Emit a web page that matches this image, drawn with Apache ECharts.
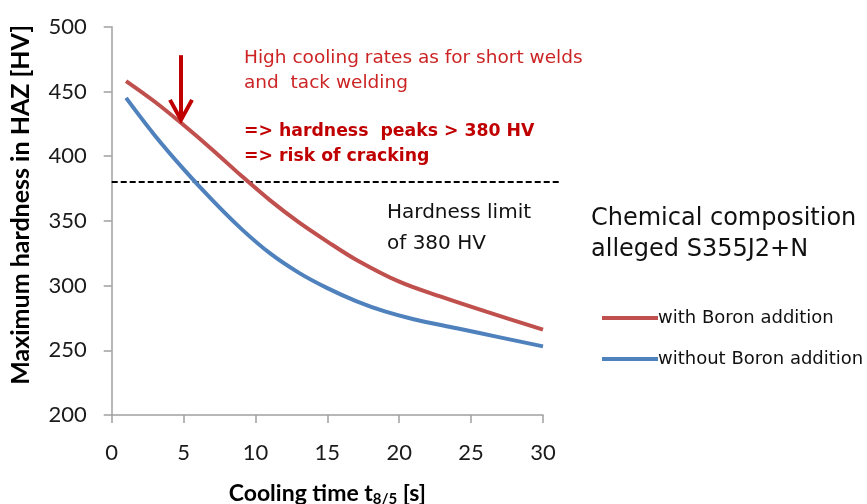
<!DOCTYPE html>
<html><head><meta charset="utf-8">
<script src="https://cdn.jsdelivr.net/npm/echarts@6/dist/echarts.min.js"></script>
<style>html,body{margin:0;padding:0;background:#fff}#c{width:867px;height:504px}</style>
</head><body><div id="c"></div>
<script>
const redTime   = [1,3,5,7,9,11,13,15,17,20,23,26,30];
const withBoron = [458,442,424,405,385,366,349,334,320,303,291,280,266];
const blueTime     = [1,3,5,7,9,11,13,15,17,19,21,24,27,30];
const withoutBoron = [445,416,390,366,344,325,310,298,288,280,274,267,260,253];
const hardnessLimit = 380;
const limitSpan = [0, 31.3];
const arrowX = 4.82, arrowFrom = 478, arrowTo = 428;
const xTicks = {min:0, max:30, interval:5};
const yTicks = {min:200, max:500, interval:50};

const pair = (xs, ys) => xs.map((x,i)=>[x, ys[i]]);
const chart = echarts.init(document.getElementById('c'));
const axisFont = 'Lato, "Open Sans", sans-serif';
const txtFont = '"DejaVu Sans", "Liberation Sans", sans-serif';
chart.setOption({
  animation:false,
  grid:{left:111.7, right:324, top:26.7, bottom:89, containLabel:false, outerBoundsMode:'none'},
  xAxis:{type:'value', min:xTicks.min, max:xTicks.max, interval:xTicks.interval,
    axisLine:{show:true, lineStyle:{color:'#a0a0a0', width:1.5}},
    axisTick:{show:true, inside:false, length:8, lineStyle:{color:'#a0a0a0', width:1.5}},
    splitLine:{show:false},
    axisLabel:{fontFamily:axisFont, fontSize:22, color:'#1a1a1a', margin:27},
    name:'{a|Cooling time t}{s|8/5}{a| [s]}', nameLocation:'middle', nameGap:66,
    nameTextStyle:{rich:{
      a:{fontFamily:axisFont, fontWeight:'bold', fontSize:23, color:'#000', lineHeight:26},
      s:{fontFamily:axisFont, fontWeight:'bold', fontSize:15, color:'#000', padding:[11,0,0,0], lineHeight:26}
    }}
  },
  yAxis:{type:'value', min:yTicks.min, max:yTicks.max, interval:yTicks.interval,
    axisLine:{show:true, lineStyle:{color:'#a0a0a0', width:1.5}},
    axisTick:{show:true, inside:false, length:8, lineStyle:{color:'#a0a0a0', width:1.5}},
    splitLine:{show:false},
    axisLabel:{fontFamily:axisFont, fontSize:22, color:'#1a1a1a', margin:25},
    name:'Maximum hardness in HAZ [HV]', nameLocation:'middle', nameGap:78,
    nameTextStyle:{fontFamily:axisFont, fontWeight:'bold', fontSize:25, color:'#000', padding:[0,0,0,32]}
  },
  legend:{orient:'vertical', left:597, top:304, itemWidth:56, itemHeight:4, itemGap:23,
    icon:'rect',
    textStyle:{fontFamily:txtFont, fontSize:18, color:'#111', padding:[0,0,0,-5]},
    data:['with Boron addition','without Boron addition']},
  series:[
    {name:'with Boron addition', type:'line', smooth:0.35, symbol:'none', data:pair(redTime, withBoron),
     lineStyle:{color:'#C0504D', width:4}, itemStyle:{color:'#C0504D'}, z:3},
    {name:'without Boron addition', type:'line', smooth:0.35, symbol:'none', data:pair(blueTime, withoutBoron),
     lineStyle:{color:'#4F81BD', width:4}, itemStyle:{color:'#4F81BD'}, z:3}
  ]
});
// dashed hardness limit line and arrow, positioned through the chart's own scales
const P = v => chart.convertToPixel({gridIndex:0}, v);
const l0 = P([limitSpan[0], hardnessLimit]), l1 = P([limitSpan[1], hardnessLimit]);
const a0 = P([arrowX, arrowFrom]), a1 = P([arrowX, arrowTo]);
chart.setOption({graphic:[
  {type:'line', z:2, shape:{x1:l0[0], y1:Math.round(l0[1]), x2:l1[0], y2:Math.round(l1[1])}, style:{stroke:'#000', lineWidth:2, lineDash:[6,3]}},
  {type:'line', z:10, shape:{x1:a0[0], y1:a0[1], x2:a1[0], y2:a1[1]-1}, style:{stroke:'#C00000', lineWidth:4}},
  {type:'polyline', z:10, shape:{points:[[a1[0]-11, a1[1]-20],[a1[0], a1[1]],[a1[0]+11, a1[1]-20]]}, style:{stroke:'#C00000', lineWidth:4, fill:null}},
  {type:'text', left:244, top:46, style:{text:'High cooling rates as for short welds\nand  tack welding', fill:'#CC2424', font:'18.5px '+txtFont, lineHeight:25}},
  {type:'text', left:244, top:119, style:{text:'=> hardness  peaks > 380 HV\n=> risk of cracking', fill:'#C00000', font:'bold 17.3px '+txtFont, lineHeight:25}},
  {type:'text', left:387, top:197, style:{text:'Hardness limit\nof 380 HV', fill:'#111', font:'20px '+txtFont, lineHeight:31}},
  {type:'text', left:591, top:203, style:{text:'Chemical composition\nalleged S355J2+N', fill:'#111', font:'24px '+txtFont, lineHeight:31}}
]});
</script></body></html>
